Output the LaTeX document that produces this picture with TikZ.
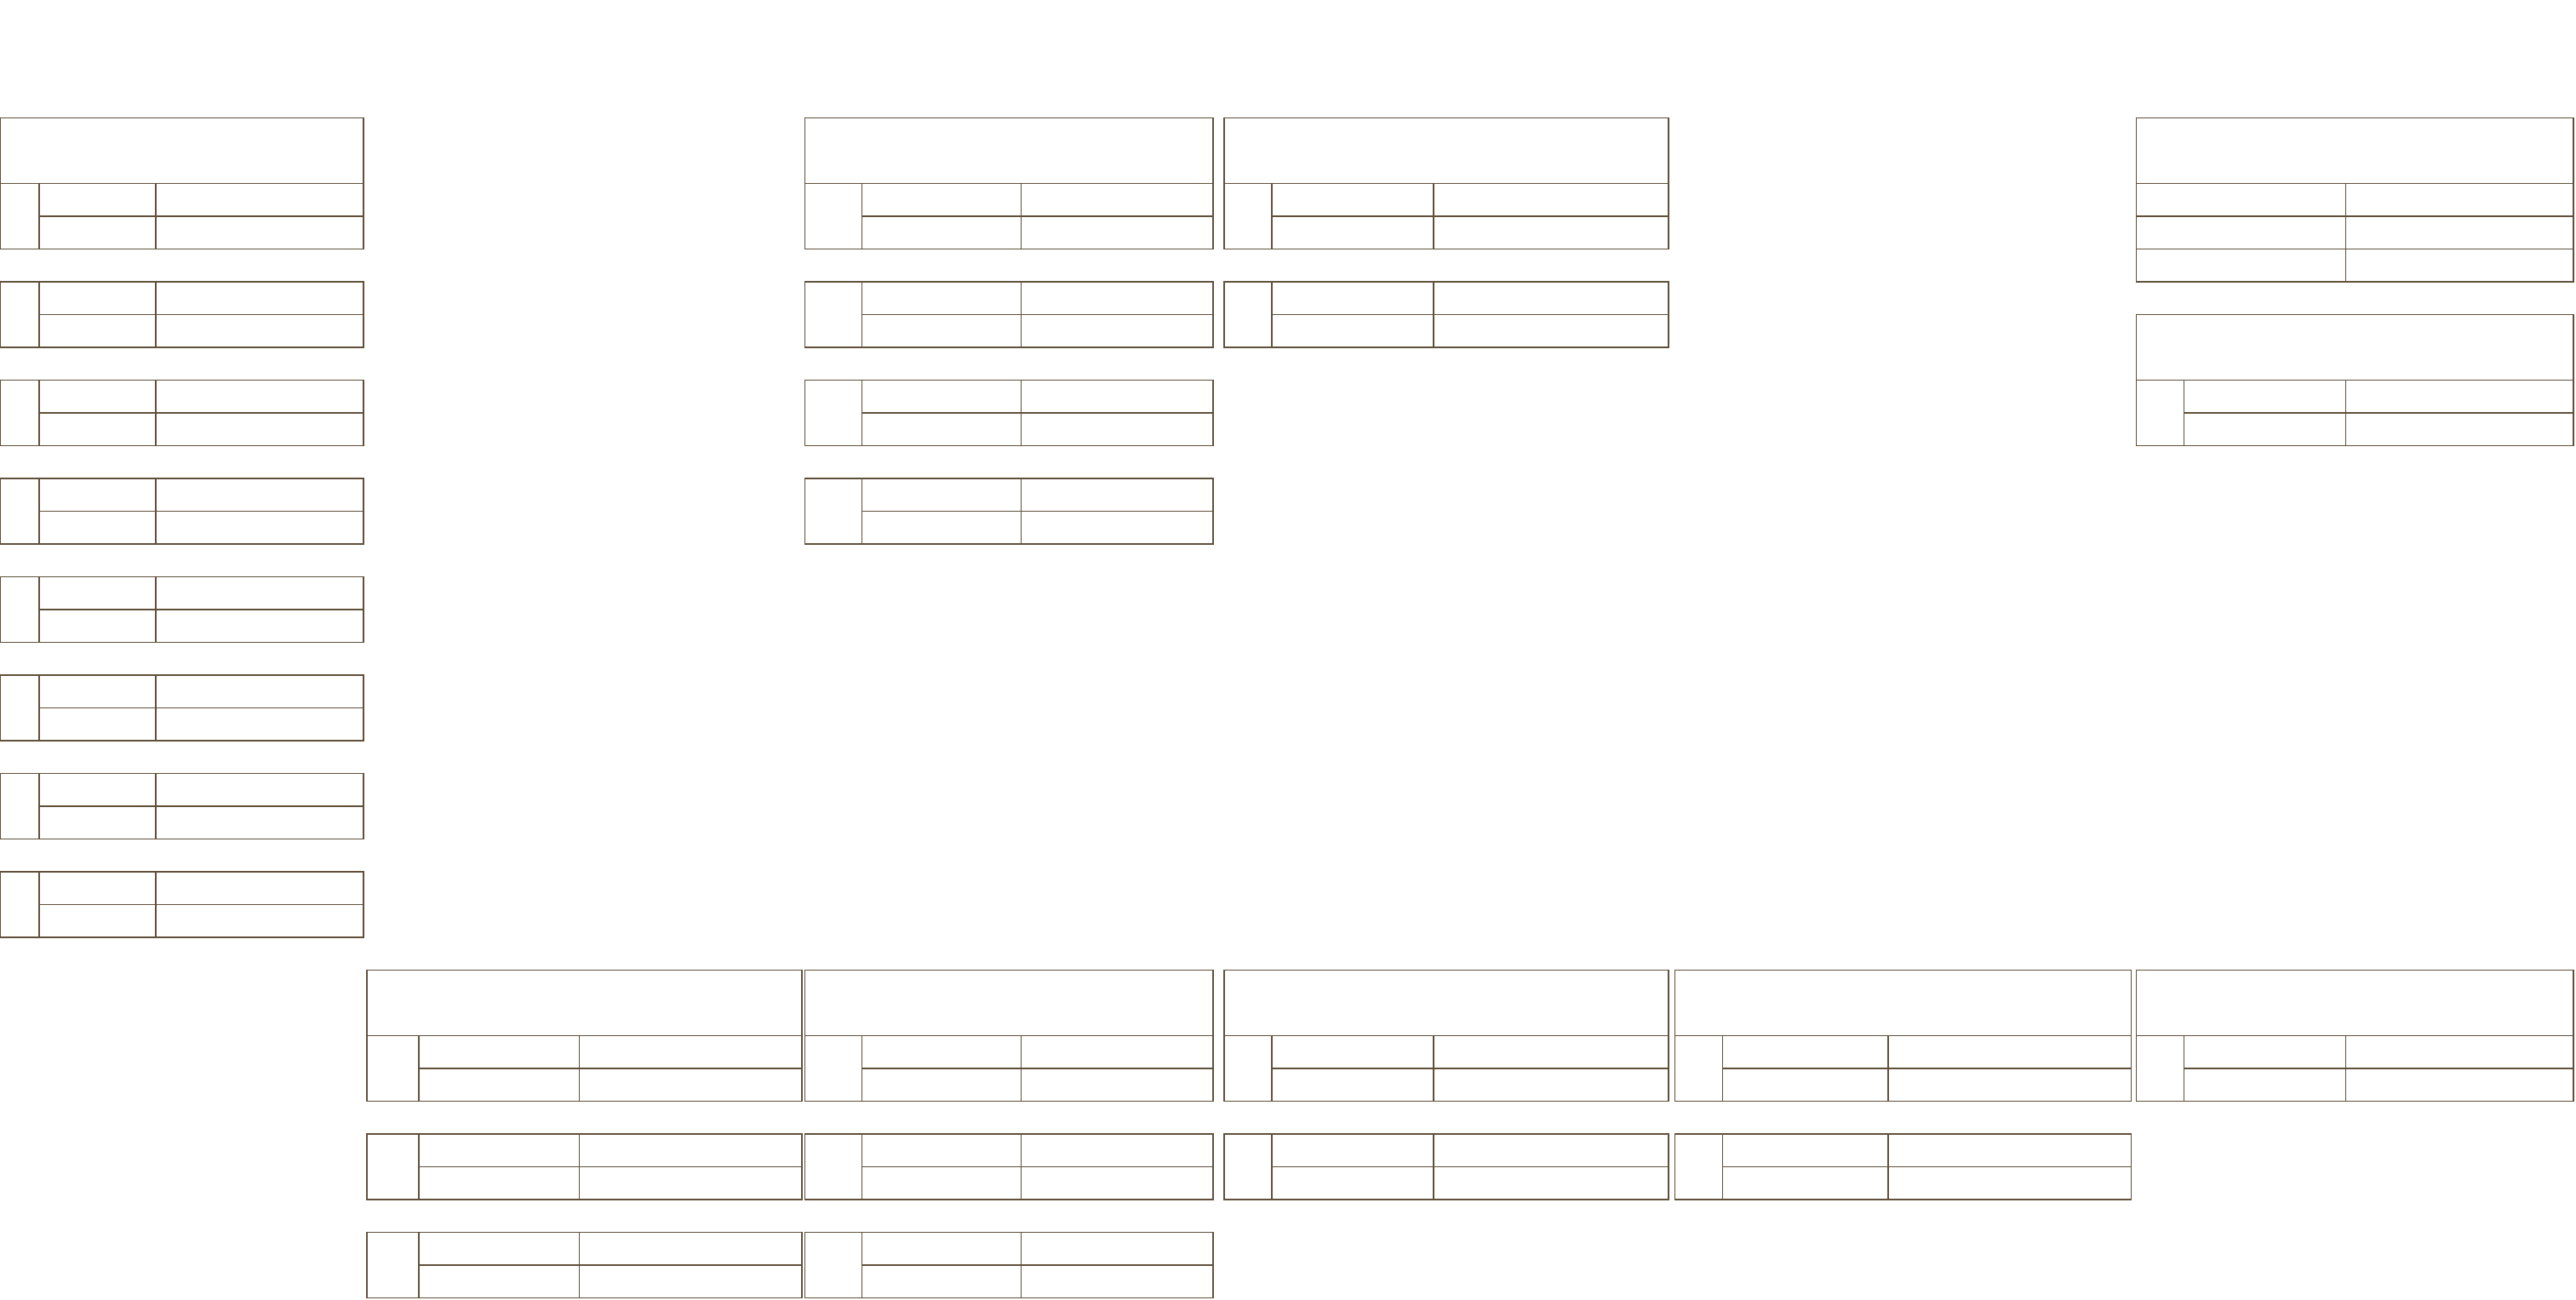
\documentclass[tikz,border=0pt]{standalone}
\usepackage{tikz}
\definecolor{tblline}{RGB}{96,80,58}
\tikzset{tbl/.style={draw=tblline, line width=0.45pt}}
% two field rows: left, key split, type split, right, first grid row
\newcommand{\fieldrows}[5]{%
  \draw[tbl] (#1,#5) rectangle (#4,#5+2);
  \draw[tbl] (#2,#5)--(#2,#5+2) (#3,#5)--(#3,#5+2) (#2,#5+1)--(#4,#5+1);
}
% title cell on top of two field rows
\newcommand{\entitybox}[5]{%
  \draw[tbl] (#1,#5) rectangle (#4,#5+4);
  \draw[tbl] (#1,#5+2)--(#4,#5+2);
  \fieldrows{#1}{#2}{#3}{#4}{#5+2}
}
\begin{document}
\begin{tikzpicture}[x=0.01cm, y=-0.385cm]
    \useasboundingbox (0,0) rectangle (30.26cm,-15.26cm);
    \begin{scope}[yshift=-1.383cm]
        % left column
        \entitybox{0.7}{46}{183}{427}{0}
        \foreach \k in {5,8,...,23}
            \fieldrows{0.7}{46}{183}{427}{\k}
        % second column
        \entitybox{946}{1013}{1200}{1426}{0}
        \foreach \k in {5,8,11}
            \fieldrows{946}{1013}{1200}{1426}{\k}
        % third column
        \entitybox{1439}{1495}{1685}{1961}{0}
        \fieldrows{1439}{1495}{1685}{1961}{5}
        % right column
        \draw[tbl] (2511,0) rectangle (3024.5,5);
        \draw[tbl] (2511,2)--(3024.5,2) (2511,3)--(3024.5,3) (2511,4)--(3024.5,4);
        \draw[tbl] (2757,2)--(2757,5);
        \entitybox{2511}{2567}{2757}{3024.5}{6}
        % bottom row
        \entitybox{431}{492.5}{681}{942.5}{26}
        \fieldrows{431}{492.5}{681}{942.5}{31}
        \fieldrows{431}{492.5}{681}{942.5}{34}
        \entitybox{946}{1013}{1200}{1426}{26}
        \fieldrows{946}{1013}{1200}{1426}{31}
        \fieldrows{946}{1013}{1200}{1426}{34}
        \entitybox{1439}{1495}{1685}{1961}{26}
        \fieldrows{1439}{1495}{1685}{1961}{31}
        \entitybox{1968.5}{2024.5}{2219.5}{2505}{26}
        \fieldrows{1968.5}{2024.5}{2219.5}{2505}{31}
        \entitybox{2511}{2567}{2757}{3024.5}{26}
    \end{scope}
\end{tikzpicture}
\end{document}
